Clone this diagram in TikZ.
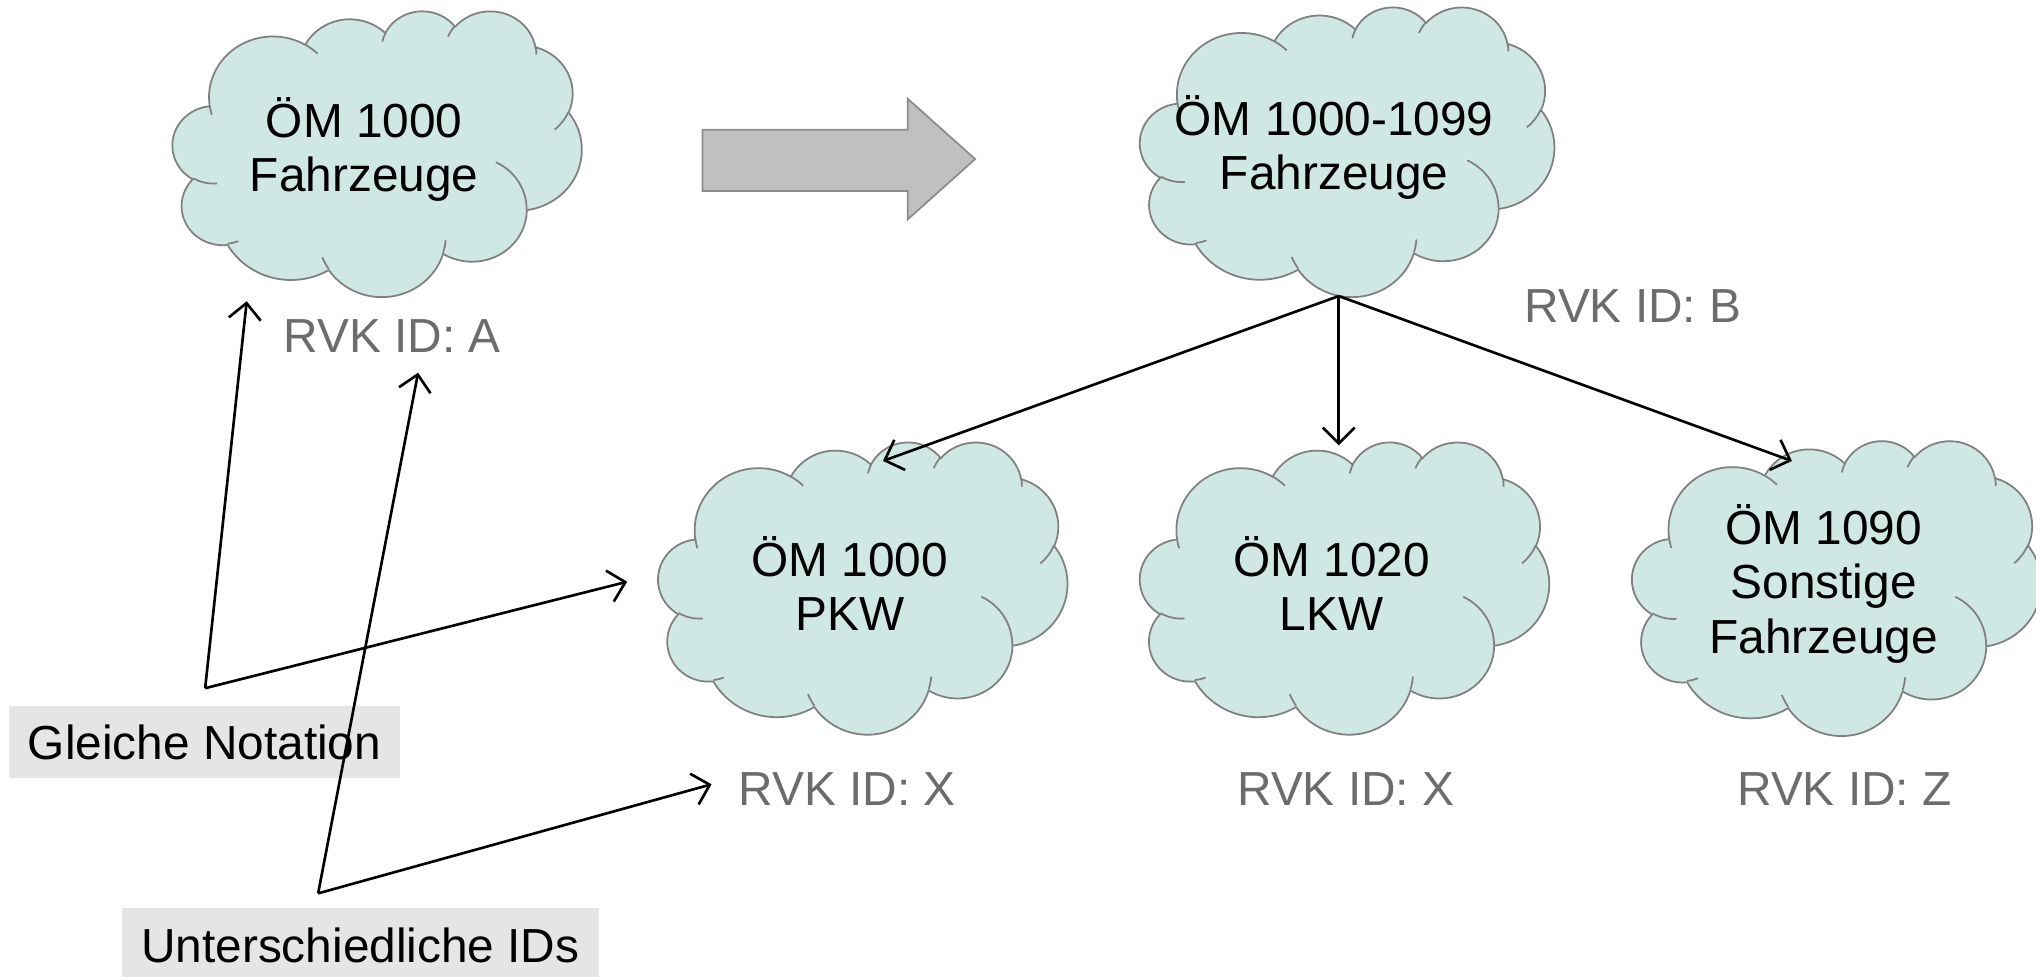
\documentclass[tikz,border=0pt]{standalone}
\usepackage{fontspec}
\setmainfont{Liberation Sans}
\usetikzlibrary{arrows.meta,calc}

\definecolor{cloudc}{RGB}{208,232,228}
\definecolor{cloudedge}{RGB}{128,128,128}
\definecolor{rvkc}{RGB}{108,108,108}
\definecolor{boxc}{RGB}{229,229,229}
\definecolor{arrowc}{RGB}{192,192,192}
\definecolor{arrowedge}{RGB}{140,140,140}

\newcommand\ctfont{\fontsize{13.6}{15.5}\selectfont}
\def\unitcm{0.012985}

% convert OOXML visual arc angles into parametric angles
\newcommand\ooprep[5]{%
  \pgfmathparse{#4+mod(atan2(#2*sin(#4),#3*cos(#4))-(#4)+540,360)-180}%
  \edef\oost{\pgfmathresult}%
  \pgfmathparse{(#4+#5)+mod(atan2(#2*sin(#4+#5),#3*cos(#4+#5))-(#4+#5)+540,360)-180}%
  \edef\ooen{\pgfmathresult}%
  \pgfmathparse{\ooen-\oost}%
  \expandafter\xdef\csname oos#1\endcsname{\oost}%
  \expandafter\xdef\csname ood#1\endcsname{\pgfmathresult}%
}
\ooprep{a}{6.753}{9.19}{-190.4875}{123.7805}
\ooprep{b}{5.333}{7.267}{-144.1024}{89.9452}
\ooprep{c}{4.365}{5.945}{-145.8079}{99.7230}
\ooprep{d}{4.857}{6.595}{-130.9861}{117.2417}
\ooprep{e}{5.333}{7.273}{-78.7089}{109.0269}
\ooprep{f}{6.775}{9.22}{-46.2673}{130.2690}
\ooprep{g}{5.785}{7.867}{0.6250}{114.0333}
\ooprep{h}{6.752}{9.215}{22.4516}{115.1726}
\ooprep{i}{7.72}{10.543}{66.2426}{75.7110}
\ooprep{j}{4.36}{5.918}{-274.9421}{146.7356}
\ooprep{k}{4.345}{5.945}{-246.8285}{152.5189}
\ooprep{A}{4.345}{5.945}{86.742}{26.4295}
\ooprep{B}{4.36}{5.918}{73.6105}{11.4475}
\ooprep{C}{6.752}{9.215}{137.6242}{14.0811}
\ooprep{D}{6.752}{9.215}{6.4533}{15.9984}
\ooprep{E}{5.785}{7.867}{-70.2924}{70.9174}
\ooprep{F}{5.333}{7.273}{30.3180}{27.7515}
\ooprep{G}{4.857}{6.595}{-13.7443}{14.8589}
\ooprep{H}{4.857}{6.595}{-149.1815}{18.1954}
\ooprep{I}{4.365}{5.945}{-163.4943}{17.6864}
\ooprep{J}{6.753}{9.19}{-66.7070}{12.3194}
\ooprep{K}{6.753}{9.19}{157.6544}{11.8582}

\tikzset{
  cloudfill/.style={fill=cloudc, draw=cloudedge, line width=0.5pt, line join=round},
  cloudline/.style={draw=cloudedge, line width=0.5pt},
  cloudtext/.style={align=center, font=\ctfont, inner sep=0pt},
  rvk/.style={text=rvkc, font=\ctfont, inner sep=0pt},
  notebox/.style={fill=boxc, font=\ctfont, inner sep=0pt},
  conn/.style={draw=black, line width=0.75pt, -{Straight Barb[length=1.6mm,width=3.2mm]}},
  blockarrow/.style={fill=arrowc, draw=arrowedge, line width=0.5pt},
}

% #1 name, #2 cx, #3 cy, #4 w, #5 h, #6 text
\newcommand\ppcloud[6]{%
  \pgfmathsetmacro\pcw{#4*\unitcm/43.2}%
  \pgfmathsetmacro\pch{#5*\unitcm/43.2}%
  \begin{scope}[shift={(#2-#4/2,#3-#5/2)},x=1cm,y=1cm,xscale=\pcw,yscale=-\pch]
    \filldraw[cloudfill] (3.9,14.37)
      arc[start angle=\oosa,delta angle=\ooda,x radius=6.753,y radius=9.19]
      arc[start angle=\oosb,delta angle=\oodb,x radius=5.333,y radius=7.267]
      arc[start angle=\oosc,delta angle=\oodc,x radius=4.365,y radius=5.945]
      arc[start angle=\oosd,delta angle=\oodd,x radius=4.857,y radius=6.595]
      arc[start angle=\oose,delta angle=\oode,x radius=5.333,y radius=7.273]
      arc[start angle=\oosf,delta angle=\oodf,x radius=6.775,y radius=9.22]
      arc[start angle=\oosg,delta angle=\oodg,x radius=5.785,y radius=7.867]
      arc[start angle=\oosh,delta angle=\oodh,x radius=6.752,y radius=9.215]
      arc[start angle=\oosi,delta angle=\oodi,x radius=7.72,y radius=10.543]
      arc[start angle=\oosj,delta angle=\oodj,x radius=4.36,y radius=5.918]
      arc[start angle=\oosk,delta angle=\oodk,x radius=4.345,y radius=5.945]
      -- cycle;
    \draw[cloudline]
      (4.693,26.177) arc[start angle=\oosA,delta angle=\oodA,x radius=4.345,y radius=5.945]
      (6.928,34.899) arc[start angle=\oosB,delta angle=\oodB,x radius=4.36,y radius=5.918]
      (16.478,39.09) arc[start angle=\oosC,delta angle=\oodC,x radius=6.752,y radius=9.215]
      (28.827,34.751) arc[start angle=\oosD,delta angle=\oodD,x radius=6.752,y radius=9.215]
      (34.129,22.954) arc[start angle=\oosE,delta angle=\oodE,x radius=5.785,y radius=7.867]
      (41.798,15.354) arc[start angle=\oosF,delta angle=\oodF,x radius=5.333,y radius=7.273]
      (38.324,5.426) arc[start angle=\oosG,delta angle=\oodG,x radius=4.857,y radius=6.595]
      (29.078,3.952) arc[start angle=\oosH,delta angle=\oodH,x radius=4.857,y radius=6.595]
      (22.141,4.72) arc[start angle=\oosI,delta angle=\oodI,x radius=4.365,y radius=5.945]
      (14.0,5.192) arc[start angle=\oosJ,delta angle=\oodJ,x radius=6.753,y radius=9.19]
      (4.127,15.789) arc[start angle=\oosK,delta angle=\oodK,x radius=6.753,y radius=9.19];
  \end{scope}
  \node[cloudtext] (#1) at (#2-10,#3-3) {#6};
}

\begin{document}
\begin{tikzpicture}[x=0.012985cm,y=-0.012985cm]
  \useasboundingbox (0,0) rectangle (1568,752);
  \fill[white] (0,0) rectangle (1568,752);

  % clouds
  \ppcloud{ca}{290.5}{118}{315}{220}{ÖM 1000\\Fahrzeuge}
  \ppcloud{cb}{1037.5}{116.5}{319}{223}{ÖM 1000-1099\\Fahrzeuge}
  \ppcloud{pkw}{664.5}{452.5}{315}{225}{ÖM 1000\\PKW}
  \ppcloud{lkw}{1035.5}{452.5}{315}{225}{ÖM 1020\\LKW}
  \ppcloud{son}{1414.5}{452.5}{315}{227}{ÖM 1090\\Sonstige\\Fahrzeuge}

  % block arrow
  \filldraw[blockarrow] (541,100) -- (699,100) -- (699,76) -- (751,122.5)
    -- (699,169) -- (699,147) -- (541,147) -- cycle;

  % RVK labels
  \node[rvk] (rvka) at (302,258.5) {RVK ID: A};
  \node[rvk] (rvkb) at (1257.5,235.5) {RVK ID: B};
  \node[rvk] (rvkx1) at (652.5,607.5) {RVK ID: X};
  \node[rvk] (rvkx2) at (1036.5,607.5) {RVK ID: X};
  \node[rvk] (rvkz) at (1420.5,607.5) {RVK ID: Z};

  % note boxes
  \node[notebox, minimum width=3.909cm, minimum height=0.714cm] (gn) at (157.5,571.5) {Gleiche Notation};
  \node[notebox, minimum width=4.766cm, minimum height=0.74cm] (ui) at (277.5,728) {Unterschiedliche IDs};

  % connector points
  \coordinate (bfoot) at (1031,228);
  \coordinate (pkwin) at (680,355);
  \coordinate (lkwin) at (1031,343);
  \coordinate (sonin) at (1380,355);
  \coordinate (gnapex) at (158,530);
  \coordinate (cain) at (190,232);
  \coordinate (pkwleft) at (483,448);
  \coordinate (uiapex) at (245,688);
  \coordinate (rvkain) at (322,287);
  \coordinate (rvkxin) at (548,604);

  % connectors
  \draw[conn] (bfoot) -- (pkwin);
  \draw[conn] (bfoot) -- (lkwin);
  \draw[conn] (bfoot) -- (sonin);
  \draw[conn] (gnapex) -- (cain);
  \draw[conn] (gnapex) -- (pkwleft);
  \draw[conn] (uiapex) -- (rvkain);
  \draw[conn] (uiapex) -- (rvkxin);
\end{tikzpicture}
\end{document}
